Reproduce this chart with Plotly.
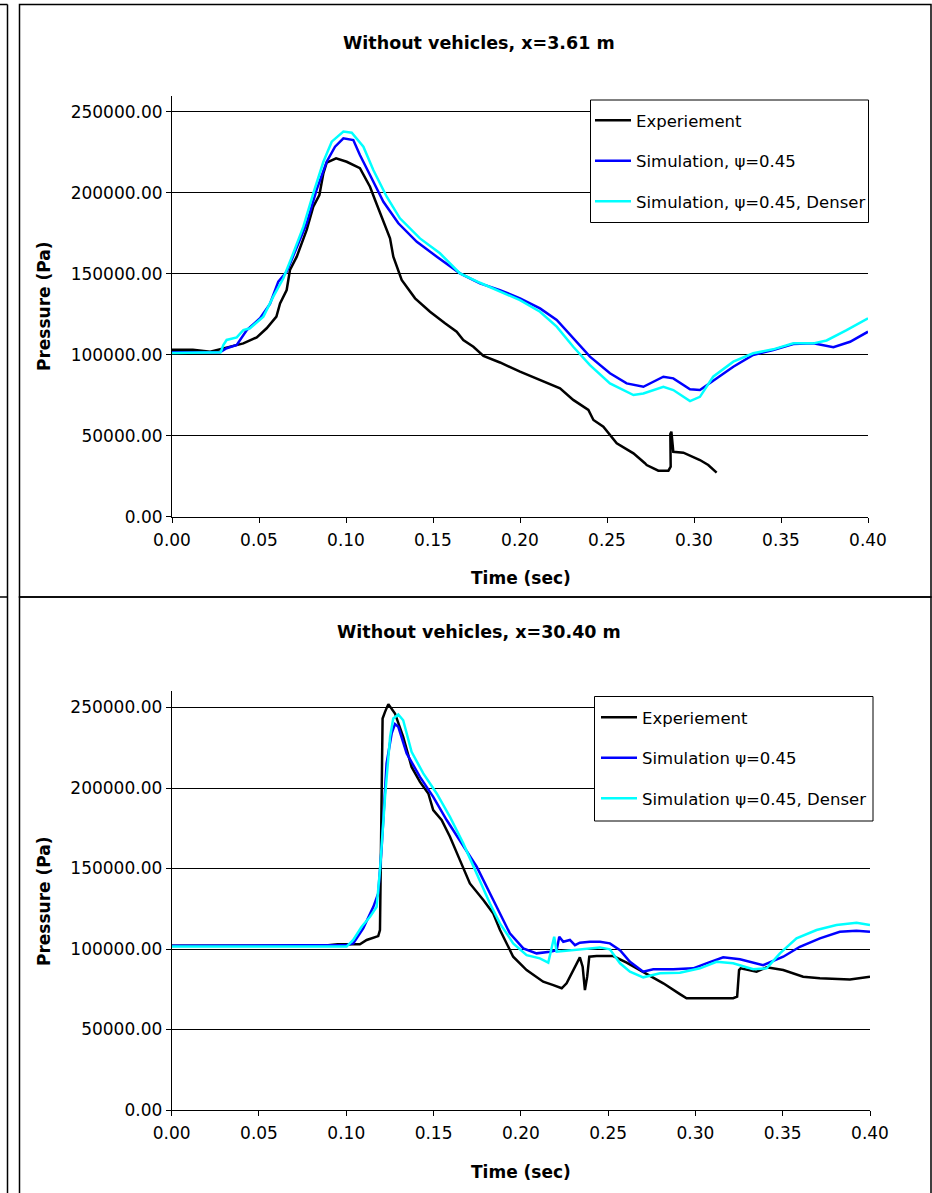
import plotly.graph_objects as go

# ---------------- DATA ----------------
# Top panel: Without vehicles, x=3.61 m
t_top_exp = [0.000, 0.012, 0.022, 0.030, 0.041, 0.0487, 0.0544, 0.060, 0.0621, 0.0659, 0.0678, 0.0717,
             0.0774, 0.0812, 0.0847, 0.0870, 0.0889, 0.0943, 0.1004, 0.1080, 0.1138, 0.1167, 0.1205,
             0.1253, 0.1272, 0.1320, 0.1397, 0.1483, 0.1569, 0.1636, 0.1674, 0.1732, 0.1790, 0.1885,
             0.2000, 0.2115, 0.2230, 0.2306, 0.2393, 0.2422, 0.2479, 0.2556, 0.2652, 0.2718, 0.2728,
             0.2795, 0.2853, 0.2866, 0.2864, 0.2870, 0.2877, 0.2881, 0.2939, 0.3034, 0.3082, 0.3130]
p_top_exp = [103000, 103000, 101800, 103800, 107000, 110700, 116300, 123500, 131700, 139900, 152300, 160500,
             177000, 191400, 198600, 212000, 218500, 221200, 219100, 215100, 203700, 195500, 185200,
             171800, 160500, 146100, 134800, 126500, 119400, 114200, 109100, 104900, 99200, 95200,
             89500, 84400, 79300, 72100, 65900, 59700, 55600, 45300, 39100, 33000, 31900,
             28400, 28400, 30900, 51000, 52500, 45300, 40100, 39500, 35000, 31900, 27200]

t_top_sim = [0.000, 0.0276, 0.0314, 0.0372, 0.043, 0.0506, 0.0563, 0.0611, 0.0659, 0.0717, 0.0774, 0.0831,
             0.0889, 0.0937, 0.0985, 0.1042, 0.108, 0.1138, 0.1215, 0.1301, 0.1407, 0.1522, 0.1655,
             0.177, 0.1885, 0.2, 0.2115, 0.2211, 0.2306, 0.2402, 0.2517, 0.2613, 0.2709, 0.2824, 0.2881,
             0.2977, 0.3034, 0.313, 0.3226, 0.334, 0.3455, 0.3571, 0.3686, 0.3801, 0.3897, 0.4]
p_top_sim = [101500, 101500, 104000, 106000, 115200, 122500, 131300, 145100, 151200, 166700, 181100, 201700,
             219100, 228400, 233600, 232500, 223300, 210900, 194400, 181100, 169700, 160500, 150200,
             144000, 139900, 134800, 128600, 121500, 110100, 98800, 88500, 82300, 80200, 86400, 85400,
             78600, 78200, 85400, 92600, 99800, 102900, 106600, 107000, 104600, 108000, 114200]

t_top_den = [0.000, 0.028, 0.0295, 0.0314, 0.0372, 0.041, 0.0448, 0.0525, 0.0582, 0.064, 0.0697, 0.0755,
             0.0812, 0.087, 0.0918, 0.0985, 0.1033, 0.11, 0.1157, 0.1234, 0.131, 0.1425, 0.154, 0.1655,
             0.177, 0.1885, 0.2, 0.2115, 0.2211, 0.2306, 0.2402, 0.2517, 0.2652, 0.2709, 0.2824, 0.2881,
             0.2977, 0.3034, 0.311, 0.3226, 0.334, 0.3455, 0.3571, 0.3686, 0.3762, 0.3877, 0.4]
p_top_den = [101000, 101500, 106000, 109100, 110700, 115200, 116300, 123500, 135800, 147200, 162600, 179000,
             199600, 219100, 231500, 237700, 237000, 228400, 214000, 197500, 184200, 171800, 162600, 150200,
             144400, 138900, 133700, 126500, 117300, 104900, 93600, 82300, 75100, 76100, 80200, 78200,
             71400, 74000, 86400, 95700, 100900, 103300, 107000, 107000, 108800, 115200, 122500]

# Bottom panel: Without vehicles, x=30.40 m
t_bot_exp = [0.000, 0.0868, 0.095, 0.1078, 0.1117, 0.1155, 0.1183, 0.1193, 0.1196, 0.1203, 0.1208, 0.1222,
             0.1241, 0.1279, 0.1326, 0.1374, 0.1422, 0.147, 0.1498, 0.1546, 0.1594, 0.1651, 0.1708,
             0.1785, 0.1842, 0.188, 0.1956, 0.2033, 0.2128, 0.2186, 0.2234, 0.2262, 0.23, 0.2338, 0.2354,
             0.2367, 0.238, 0.2392, 0.2434, 0.2529, 0.2606, 0.2701, 0.2816, 0.2911, 0.2949, 0.3216,
             0.3239, 0.325, 0.3259, 0.335, 0.3408, 0.3503, 0.3617, 0.3713, 0.3885, 0.4]
p_bot_exp = [102000, 102000, 102900, 102900, 105600, 107200, 108000, 111800, 142800, 198700, 243200, 247300,
             252100, 246300, 231800, 213100, 203800, 196600, 186300, 180100, 169700, 155200, 140700,
             130400, 122100, 112000, 95200, 86900, 79700, 77600, 75600, 78700, 86900, 94800, 89000,
             74500, 82800, 95200, 95600, 95600, 91500, 85900, 78700, 72000, 69400, 69400,
             70400, 86900, 88000, 85900, 88600, 86900, 82800, 81800, 81100, 82800]

t_bot_sim = [0.000, 0.1002, 0.104, 0.1097, 0.1155, 0.1183, 0.1203, 0.1231, 0.126, 0.1279, 0.1298, 0.1346,
             0.1422, 0.1498, 0.1575, 0.1651, 0.1747, 0.1842, 0.188, 0.1937, 0.2014, 0.209, 0.2167, 0.2205,
             0.222, 0.2243, 0.2281, 0.231, 0.2338, 0.2396, 0.2453, 0.251, 0.2568, 0.2625, 0.2701, 0.2758,
             0.2873, 0.2987, 0.3063, 0.3159, 0.3255, 0.3388, 0.3503, 0.3598, 0.3713, 0.3827, 0.3922, 0.4]
p_bot_sim = [102000, 102500, 103500, 112800, 126200, 134500, 163500, 215300, 233900, 239700, 238000, 221500,
             206900, 194500, 180100, 167600, 151100, 130400, 122100, 109700, 100400, 97300, 98300, 99300,
             107600, 104500, 105600, 102400, 103900, 104500, 104500, 103500, 99300, 92100, 85900, 87400,
             87400, 88000, 91100, 94800, 93600, 90000, 95200, 101400, 106600, 110700, 111300, 110700]

t_bot_den = [0.000, 0.1002, 0.104, 0.1088, 0.1136, 0.1174, 0.1193, 0.1222, 0.1251, 0.1269, 0.1298, 0.1326,
             0.1374, 0.1441, 0.1518, 0.1594, 0.167, 0.1747, 0.1823, 0.188, 0.1956, 0.2033, 0.2109, 0.2157,
             0.2176, 0.2191, 0.2205, 0.2262, 0.2377, 0.2453, 0.251, 0.2568, 0.2625, 0.2701, 0.2797, 0.2911,
             0.3026, 0.3121, 0.3216, 0.3331, 0.3408, 0.3484, 0.3579, 0.3694, 0.3808, 0.3923, 0.4]
p_bot_den = [101500, 101500, 105600, 113800, 120000, 126200, 149000, 194500, 231800, 243200, 245700, 242100,
             222500, 209100, 196600, 182100, 165600, 146900, 128300, 115900, 103500, 96200, 94200, 91500,
             101400, 107600, 98300, 98900, 99800, 101000, 99800, 91100, 85900, 82400, 84900, 85300,
             88000, 92100, 91100, 87400, 88000, 97300, 106600, 111800, 114900, 116300, 114900]

titles = ["Without vehicles, x=3.61 m", "Without vehicles, x=30.40 m"]
names_top = ["Experiement", "Simulation, \u03c8=0.45", "Simulation, \u03c8=0.45, Denser"]
names_bot = ["Experiement", "Simulation \u03c8=0.45", "Simulation \u03c8=0.45, Denser"]
colors = ["#000000", "#0000FF", "#00FFFF"]

# ---------------- LAYOUT HELPERS ----------------
W, H = 932, 1193
def px(x):
    return x / W
def py(y):
    return 1 - y / H

FONT = "DejaVu Sans"

fig = go.Figure()

top_series = [(t_top_exp, p_top_exp), (t_top_sim, p_top_sim), (t_top_den, p_top_den)]
bot_series = [(t_bot_exp, p_bot_exp), (t_bot_sim, p_bot_sim), (t_bot_den, p_bot_den)]

for i, (t, p) in enumerate(top_series):
    fig.add_trace(go.Scatter(x=t, y=p, mode="lines", name=names_top[i],
                             line=dict(color=colors[i], width=2.5),
                             xaxis="x", yaxis="y", legend="legend",
                             legendgroup="t%d" % i))
for i, (t, p) in enumerate(bot_series):
    fig.add_trace(go.Scatter(x=t, y=p, mode="lines", name=names_bot[i],
                             line=dict(color=colors[i], width=2.5),
                             xaxis="x2", yaxis="y2", legend="legend2",
                             legendgroup="b%d" % i))

axis_common = dict(showline=True, linecolor="#000000", linewidth=1, ticks="outside",
                   ticklen=5, tickcolor="#000000", tickfont=dict(family=FONT, size=17, color="#000000"),
                   zeroline=False, automargin=False)

fig.update_layout(
    template="none",
    width=W, height=H,
    margin=dict(l=0, r=0, t=0, b=0, pad=0, autoexpand=False),
    paper_bgcolor="#FFFFFF", plot_bgcolor="#FFFFFF",
    font=dict(family=FONT, size=16, color="#000000"),
    xaxis=dict(domain=[px(172), px(868)], range=[0, 0.40], dtick=0.05, tick0=0, tickformat=".2f",
               showgrid=False, anchor="y", ticklabelstandoff=3, **axis_common),
    yaxis=dict(domain=[py(516.7), py(95.5)], range=[0, 260000], dtick=50000, tick0=0, tickformat=".2f",
               showgrid=True, gridcolor="#000000", gridwidth=1, anchor="x", **axis_common),
    xaxis2=dict(domain=[px(171.7), px(870)], range=[0, 0.40], dtick=0.05, tick0=0, tickformat=".2f",
                showgrid=False, anchor="y2", ticklabelstandoff=3, **axis_common),
    yaxis2=dict(domain=[py(1110), py(691.4)], range=[0, 260000], dtick=50000, tick0=0, tickformat=".2f",
                showgrid=True, gridcolor="#000000", gridwidth=1, anchor="x2", **axis_common),
    legend=dict(x=px(590), y=py(103), xanchor="left", yanchor="top", bgcolor="rgba(0,0,0,0)",
                borderwidth=0, tracegroupgap=16, itemwidth=36,
                font=dict(family=FONT, size=16.5, color="#000000")),
    legend2=dict(x=px(596), y=py(700), xanchor="left", yanchor="top", bgcolor="rgba(0,0,0,0)",
                 borderwidth=0, tracegroupgap=16, itemwidth=36,
                 font=dict(family=FONT, size=16.5, color="#000000")),
    showlegend=True,
)

# Panel borders and legend boxes
shapes = [
    dict(type="rect", xref="paper", yref="paper", x0=px(19.5), x1=px(931), y0=py(597), y1=py(4.5),
         line=dict(color="#000000", width=1.5)),
    dict(type="rect", xref="paper", yref="paper", x0=px(19.5), x1=px(931), y0=py(1200), y1=py(597),
         line=dict(color="#000000", width=1.5)),
    dict(type="line", xref="paper", yref="paper", x0=px(7.5), x1=px(7.5), y0=py(4.5), y1=py(1200),
         line=dict(color="#000000", width=1.5)),
    dict(type="line", xref="paper", yref="paper", x0=px(-2), x1=px(7.5), y0=py(4.5), y1=py(4.5),
         line=dict(color="#000000", width=1.5)),
    dict(type="line", xref="paper", yref="paper", x0=px(-2), x1=px(7.5), y0=py(597), y1=py(597),
         line=dict(color="#000000", width=1.5)),
    dict(type="rect", xref="paper", yref="paper", x0=px(590.5), x1=px(868.5), y0=py(222.5), y1=py(100),
         line=dict(color="#000000", width=1), fillcolor="#FFFFFF", layer="above"),
    dict(type="rect", xref="paper", yref="paper", x0=px(594.5), x1=px(873), y0=py(821), y1=py(696.5),
         line=dict(color="#000000", width=1), fillcolor="#FFFFFF", layer="above"),
]
fig.update_layout(shapes=shapes)

bold = dict(family=FONT, size=17.5, color="#000000")
bold_ax = dict(family=FONT, size=17, color="#000000")
annotations = [
    dict(text="<b>%s</b>" % titles[0], x=px(479), y=py(43), xref="paper", yref="paper",
         showarrow=False, xanchor="center", yanchor="middle", font=bold),
    dict(text="<b>%s</b>" % titles[1], x=px(479), y=py(632), xref="paper", yref="paper",
         showarrow=False, xanchor="center", yanchor="middle", font=bold),
    dict(text="<b>Pressure (Pa)</b>", x=px(44), y=py(306), xref="paper", yref="paper",
         showarrow=False, textangle=-90, xanchor="center", yanchor="middle", font=bold_ax),
    dict(text="<b>Pressure (Pa)</b>", x=px(44), y=py(901), xref="paper", yref="paper",
         showarrow=False, textangle=-90, xanchor="center", yanchor="middle", font=bold_ax),
    dict(text="<b>Time (sec)</b>", x=px(521), y=py(578), xref="paper", yref="paper",
         showarrow=False, xanchor="center", yanchor="middle", font=bold_ax),
    dict(text="<b>Time (sec)</b>", x=px(521), y=py(1172), xref="paper", yref="paper",
         showarrow=False, xanchor="center", yanchor="middle", font=bold_ax),
]
fig.update_layout(annotations=annotations)

fig.write_html("out.html")
